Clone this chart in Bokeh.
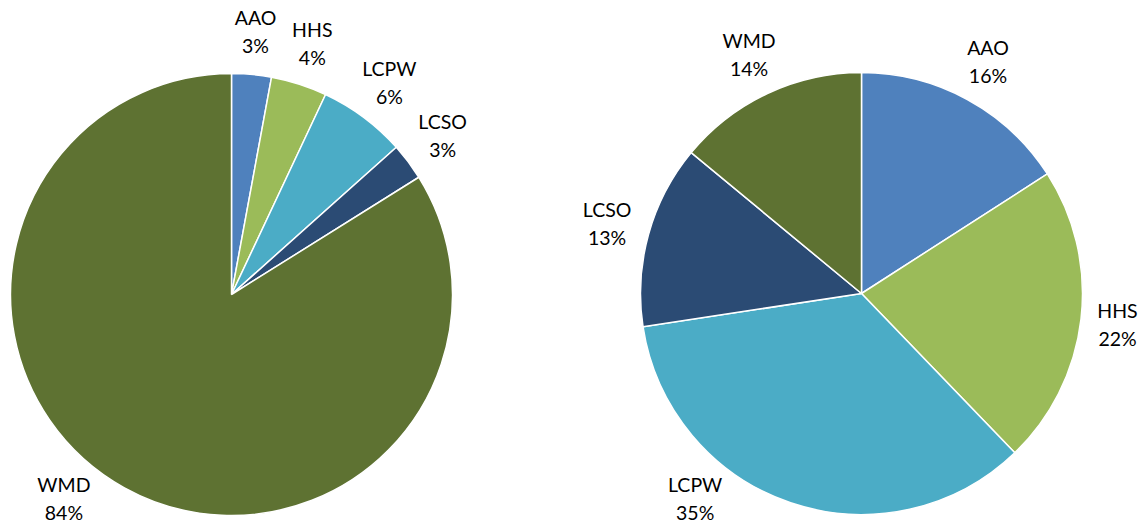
import math
from bokeh.plotting import figure
from bokeh.models import Range1d, ColumnDataSource
from bokeh.core.properties import value
from bokeh.embed import file_html
from bokeh.resources import INLINE

# ---- data ----
categories = ["AAO", "HHS", "LCPW", "LCSO", "WMD"]
left_values = [2.9, 4.1, 6.4, 2.7, 83.9]
right_values = [15.9, 21.9, 34.8, 13.4, 14.0]

# ---- style ----
colors = ["#4F81BD", "#9BBB59", "#4BACC6", "#2B4B74", "#5E7232"]
FONT = "Lato"
FONT_SIZE = "19.5px"
TEXT_COLOR = "#000000"

W, H = 1142, 523
RADIUS = 221
LABEL_R = 264
LABEL_MIN_Y = H - 498   # lowest allowed label-block centre (data units)
LABEL_MAX_X = W - 25    # rightmost allowed label-block centre


def py(page_y):
    return H - page_y


p = figure(width=W, height=H, x_range=Range1d(0, W), y_range=Range1d(0, H),
           output_backend="svg", toolbar_location=None, x_axis_location=None, y_axis_location=None,
           min_border=0)
p.outline_line_color = None
p.grid.visible = False
p.background_fill_color = "white"
p.border_fill_color = "white"


def draw_pie(cx, cy, vals):
    total = float(sum(vals))
    starts, ends, lx, ly, pct = [], [], [], [], []
    acc = 0.0
    for v in vals:
        f0 = acc / total
        acc += v
        f1 = acc / total
        starts.append(math.pi / 2 - 2 * math.pi * f0)
        ends.append(math.pi / 2 - 2 * math.pi * f1)
        th = 2 * math.pi * (f0 + f1) / 2  # clockwise from top
        s, c = math.sin(th), math.cos(th)
        y = cy + LABEL_R * c
        if y < LABEL_MIN_Y:
            c = (LABEL_MIN_Y - cy) / LABEL_R
            s = math.copysign(math.sqrt(max(0.0, 1 - c * c)), s)
        x = min(cx + LABEL_R * s, LABEL_MAX_X)
        lx.append(x)
        ly.append(cy + LABEL_R * c)
        pct.append(f"{round(100 * v / total)}%")
    src = ColumnDataSource(dict(start=starts, end=ends, color=colors, name=categories,
                                pct=pct, lx=lx, ly=ly))
    p.wedge(x=cx, y=cy, radius=RADIUS, start_angle="start", end_angle="end", direction="clock",
            fill_color="color", line_color="white", line_width=1.5, source=src)
    common = dict(text_font=value(FONT), text_font_size=FONT_SIZE, text_color=TEXT_COLOR,
                  text_align="center", text_baseline="middle", source=src)
    p.text(x="lx", y="ly", text="name", y_offset=-14, **common)
    p.text(x="lx", y="ly", text="pct", y_offset=14, **common)


draw_pie(231, py(294), left_values)
draw_pie(861, py(293), right_values)

open("out.html", "w").write(file_html(p, INLINE))
